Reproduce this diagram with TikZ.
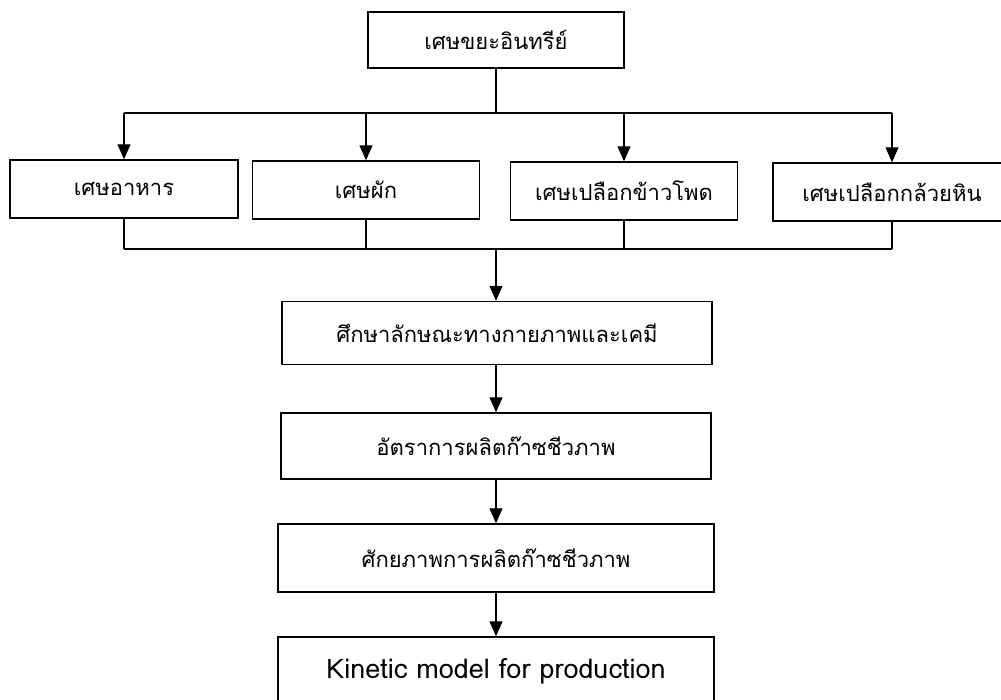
\documentclass[tikz,border=0pt]{standalone}
\usepackage{fontspec}
\setmainfont[Script=Thai]{Loma}
\usetikzlibrary{arrows.meta}

\begin{document}
\begin{tikzpicture}[x=1pt,y=-1pt,>={Triangle[width=13pt,length=15pt]},
  box/.style={draw,line width=1.5pt,inner sep=0pt,minimum height=58pt,font=\fontsize{22}{26}\selectfont},
  link/.style={line width=1.2pt}]
  \useasboundingbox (0,0) rectangle (1001,699);
  \clip (0,0) rectangle (1001,699);
  % source and the four kinds of waste
  \node[box,minimum width=256pt,minimum height=56pt] (organic) at (496,40) {เศษขยะอินทรีย์};
  \node[box,minimum width=228pt] (food)   at (124,189) {เศษอาหาร};
  \node[box,minimum width=227pt] (veg)    at (366,190) {เศษผัก};
  \node[box,minimum width=227pt] (corn)   at (624,191) {เศษเปลือกข้าวโพด};
  \node[box,minimum width=238pt] (banana) at (892,192) {เศษเปลือกกล้วยหิน};
  \coordinate (split) at (496,113);
  \coordinate (merge) at (496,249);
  \draw[link] (organic.south) -- (split);
  \draw[link] (food.north |- split) -- (banana.north |- split);
  \foreach \n in {food,veg,corn,banana}{
    \draw[link,->] (\n.north |- split) -- (\n.north);
    \draw[link] (\n.south) -- (\n.south |- merge);
  }
  \draw[link] (food.south |- merge) -- (banana.south |- merge);
  % the study chain
  \node[box,minimum width=430pt,minimum height=63pt] (study)     at (497,333) {ศึกษาลักษณะทางกายภาพและเคมี};
  \node[box,minimum width=430pt,minimum height=66pt] (rate)      at (496,446) {อัตราการผลิตก๊าซชีวภาพ};
  \node[box,minimum width=436pt,minimum height=68pt] (potential) at (496,558) {ศักยภาพการผลิตก๊าซชีวภาพ};
  \node[box,minimum width=436pt,minimum height=68pt,font=\fontsize{27}{30}\selectfont] (kinetic) at (496,671) {Kinetic model for production};
  \draw[link,->] (merge) -- (merge |- study.north);
  \draw[link,->] (study.south -| merge) -- (rate.north -| merge);
  \draw[link,->] (rate) -- (potential);
  \draw[link,->] (potential) -- (kinetic);
\end{tikzpicture}
\end{document}
